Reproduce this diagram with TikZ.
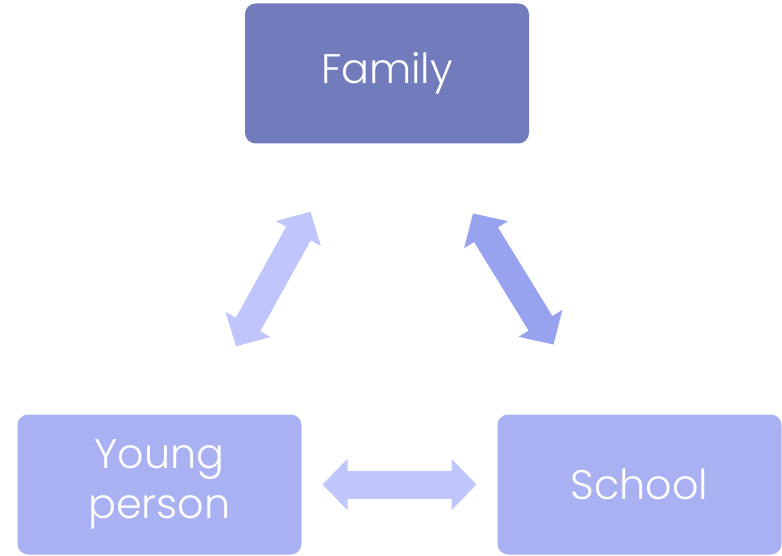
\documentclass[tikz,border=0pt]{standalone}
\usepackage{fontspec}
\setmainfont{Poppins Light}
\usetikzlibrary{arrows.meta,calc}

\definecolor{famblue}{HTML}{727BBB}
\definecolor{boxblue}{HTML}{AAB1F2}
\definecolor{arrlight}{HTML}{C0C6FC}
\definecolor{arrdark}{HTML}{98A3F0}

\tikzset{
  box/.style={rectangle, rounded corners=8pt, minimum width=213pt, minimum height=105pt,
    text=white, align=center, font=\fontsize{31}{37}\selectfont},
  link/.style={line width=21pt,
    {Triangle[width=37.5pt,length=18.75pt]}-{Triangle[width=37.5pt,length=18.75pt]}},
}

\begin{document}
\begin{tikzpicture}[x=0.75pt,y=0.75pt]
  \useasboundingbox (0,0) rectangle (782,-556);

  % the three boxes
  \node[box, fill=famblue] (family) at (387,-73.5) {Family};
  \node[box, fill=boxblue] (young) at (159.5,-484.5) {Young\\person};
  \node[box, fill=boxblue] (school) at (639.5,-484.5) {School};

  % block arrows, centred between the boxes
  \draw[link, arrlight] ($(family)!0.5!(young)!57.75pt!(young)$) -- ($(family)!0.5!(young)!57.75pt!(family)$);
  \draw[link, arrdark] ($(family)!0.5!(school)!57.75pt!(family)$) -- ($(family)!0.5!(school)!57.75pt!(school)$);
  \draw[link, arrlight] ($(young)!0.5!(school)!57.75pt!(young)$) -- ($(young)!0.5!(school)!57.75pt!(school)$);

\end{tikzpicture}
\end{document}
